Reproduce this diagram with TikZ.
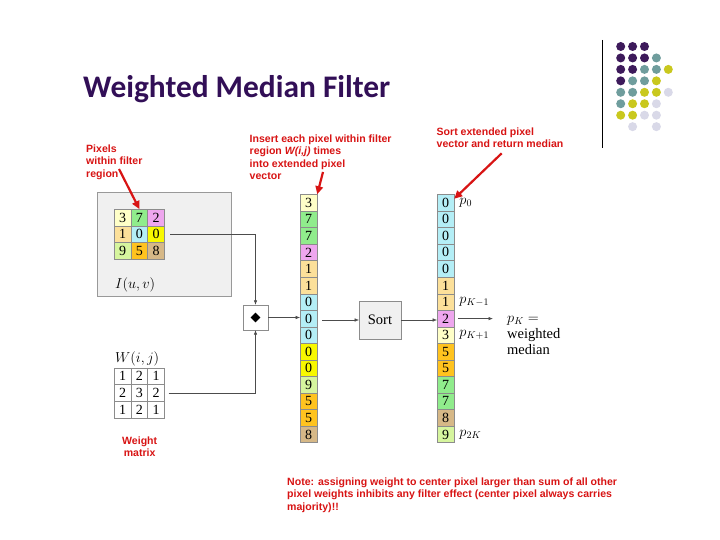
\documentclass[tikz,border=0pt]{standalone}
\usepackage{amsmath,amssymb}
\usepackage{fontspec}
\setmainfont{Liberation Serif}
\newfontfamily\titlefont{Carlito}
\newfontfamily\notefont{Liberation Sans}
\usepackage{tikz}
\usetikzlibrary{arrows.meta,shapes.geometric,positioning}

\definecolor{titlepurple}{HTML}{320F57}
\definecolor{notered}{HTML}{D81414}
\definecolor{dotP}{HTML}{3D1A5B}
\definecolor{dotT}{HTML}{6F9D9D}
\definecolor{dotY}{HTML}{C9C81E}
\definecolor{dotL}{HTML}{D9D9E8}
% pixel value colours
\definecolor{c0}{HTML}{B4EEF6}
\definecolor{cy}{HTML}{F8F800}
\definecolor{c1}{HTML}{FCE09A}
\definecolor{c2}{HTML}{EEA6EE}
\definecolor{c3}{HTML}{FFFFC8}
\definecolor{c5}{HTML}{FFC31F}
\definecolor{c7}{HTML}{90EC8C}
\definecolor{c8}{HTML}{D6B887}
\definecolor{c9}{HTML}{D6F59E}

\begin{document}
\begin{tikzpicture}[x=1pt,y=-1pt,
  cell/.style={draw=black!45,line width=0.5pt,minimum width=16.7pt,minimum height=16.7pt,inner sep=0pt,font=\fontsize{14}{14}\selectfont},
  vcell/.style={cell,minimum width=16.6pt,minimum height=16.55pt},
  flow/.style={draw=black!70,line width=0.6pt,-{Latex[length=4.5pt,width=3.5pt]}},
  callout/.style={draw=notered,line width=2.2pt,-{Triangle[length=8pt,width=7.5pt]}},
  remark/.style={text=notered,font=\notefont\bfseries\fontsize{10.55}{12.5}\selectfont,align=left,inner sep=0pt},
  plabel/.style={anchor=west,inner sep=0pt,font=\fontsize{14}{14}\selectfont}]
  \useasboundingbox (0,0) rectangle (720,540);
  \fill[white] (0,0) rectangle (720,540);
  % --- title and corner decoration ---
  \node[anchor=base west,inner sep=0pt,text=titlepurple,font=\titlefont\bfseries\fontsize{31.4}{31.4}\selectfont] (title) at (83,97.5) {Weighted Median Filter};
  \draw[line width=1.2pt] (602.7,40) -- (602.7,148);
  \def\skipN{N}
  \foreach \row [count=\j] in {{P,P,P},{P,P,P,T},{P,P,T,T,Y},{P,T,T,Y},{T,T,Y,Y,L},{T,Y,Y,L},{Y,Y,L,L},{N,L,N,L}}
    \foreach \tone [count=\i] in \row {
      \ifx\tone\skipN\else \fill[dot\tone] (608.8+11.9*\i,35.05+11.45*\j) circle (4.5); \fi}
  % --- image region ---
  \node[draw=black!40,fill=black!6,minimum width=134pt,minimum height=103.3pt,inner sep=0pt] (frame) at (163.7,244.35) {};
  \foreach \v/\col [count=\k from 0] in {3/c3,7/c7,2/c2,1/c1,0/c0,0/cy,9/c9,5/c5,8/c8} {
    \pgfmathtruncatemacro\r{div(\k,3)+1}
    \pgfmathtruncatemacro\c{mod(\k,3)+1}
    \node[cell,fill=\col] (img-\r-\c) at (105.95+16.7*\c,200.95+16.7*\r) {\v};
  }
  \node[anchor=base west,inner sep=0pt,font=\fontsize{15}{15}\selectfont] (imglabel) at (115,288) {$I(u,v)$};
  % --- weight matrix ---
  \node[anchor=base west,inner sep=0pt,font=\fontsize{15}{15}\selectfont] (wtslabel) at (115,362.5) {$W(i,j)$};
  \foreach \v [count=\k from 0] in {1,2,1,2,3,2,1,2,1} {
    \pgfmathtruncatemacro\r{div(\k,3)+1}
    \pgfmathtruncatemacro\c{mod(\k,3)+1}
    \node[cell,fill=white] (wts-\r-\c) at (105.95+16.7*\c,359.65+16.7*\r) {\v};
  }
  % --- insertion ---
  \node[draw=black!45,fill=white,minimum size=25pt,inner sep=0pt] (mix) at (255.5,317.5) {};
  \node[diamond,fill=black,inner sep=0pt,minimum size=10pt] (mixmark) at (mix.center) {};
  \foreach \v/\col [count=\k] in {3/c3,7/c7,7/c7,2/c2,1/c1,1/c1,0/c0,0/c0,0/c0,0/cy,0/cy,9/c9,5/c5,5/c5,8/c8}
    \node[vcell,fill=\col] (ext-\k) at (308.7,186.2+16.55*\k) {\v};
  \draw[flow] ([xshift=5.5pt]img-2-3.east) -| (mix.north);
  \draw[flow] ([xshift=4pt]wts-2-3.east) -| (mix.south);
  \draw[flow] (mix.east) -- (mix.east -| ext-8.west);
  % --- sorting ---
  \node[draw=black!45,fill=black!6,minimum width=41.4pt,minimum height=37.6pt,font=\fontsize{14.5}{14.5}\selectfont] (sort) at (380,320) {Sort};
  \foreach \v/\col [count=\k] in {0/c0,0/c0,0/c0,0/c0,0/c0,1/c1,1/c1,2/c2,3/c3,5/c5,5/c5,7/c7,7/c7,8/c8,9/c9}
    \node[vcell,fill=\col] (srt-\k) at (445.7,186.2+16.55*\k) {\v};
  \draw[flow] ([xshift=5pt]ext-8.east |- sort.west) -- (sort.west);
  \draw[flow] (sort.east) -- (sort.east -| srt-8.west);
  \node[plabel] (p0) at ([xshift=5pt]srt-1.east) {$p_0$};
  \node[plabel] (pKm) at ([xshift=5pt]srt-7.east) {$p_{K-1}$};
  \node[plabel] (pKp) at ([xshift=5pt]srt-9.east) {$p_{K+1}$};
  \node[plabel] (p2K) at ([xshift=5pt]srt-15.east) {$p_{2K}$};
  \node[anchor=north west,inner sep=0pt,align=left,font=\fontsize{14.5}{15.8}\selectfont] (pK) at (507,316) {$p_K =$\\weighted\\median};
  \draw[flow] ([xshift=4pt]srt-8.east) -- ([xshift=-14pt]pK.north west |- srt-8.east);
  % --- red remarks ---
  \node[remark,anchor=north west] (pixnote) at (86,144.5) {Pixels\\within filter\\region};
  \coordinate (pixtail) at (119,169);
  \draw[callout] (pixtail) -- (img-1-2.north);
  \node[remark,anchor=north west] (insnote) at (249.5,134.5) {Insert each pixel within filter\\region \textit{W(i,j)} times\\into extended pixel\\vector};
  \coordinate (instail) at (323,172);
  \draw[callout] (instail) -- (ext-1.north east);
  \node[remark,anchor=north west] (srtnote) at (436.5,127.5) {Sort extended pixel\\vector and return median};
  \coordinate (srttail) at (501.7,153.3);
  \draw[callout] (srttail) -- ([yshift=4pt]srt-1.east);
  \node[remark,align=center,anchor=north] (wtnote) at (139.7,436.5) {Weight\\matrix};
  \node[remark,anchor=north west] (note) at (287,477.5) {Note: assigning weight to center pixel larger than sum of all other\\pixel weights inhibits any filter effect (center pixel always carries\\majority)!!};
\end{tikzpicture}
\end{document}
